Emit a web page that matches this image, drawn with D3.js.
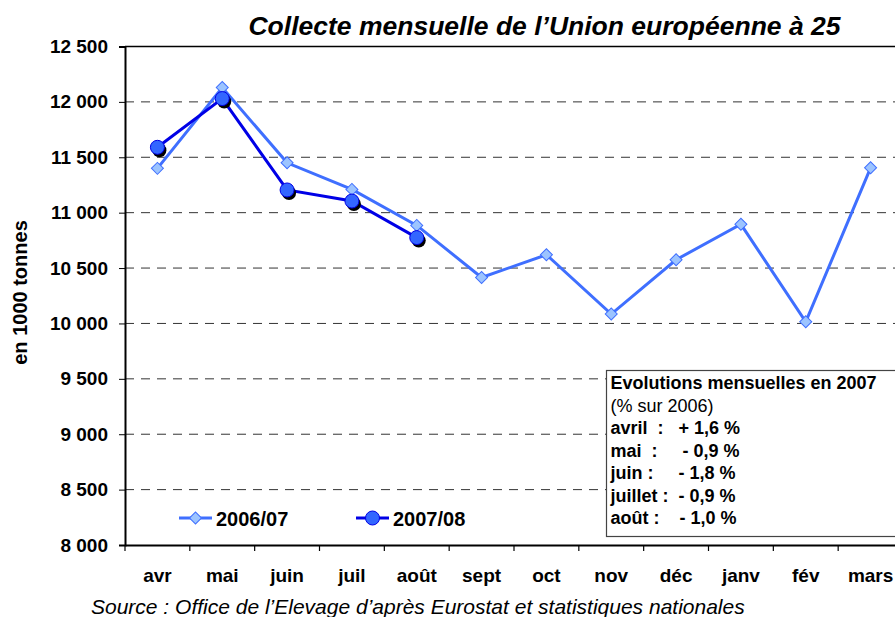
<!DOCTYPE html>
<html>
<head>
<meta charset="utf-8">
<script src="https://cdn.jsdelivr.net/npm/d3@7"></script>
<style>
  body { margin: 0; background: #fff; }
  svg { font-family: Arial, "Liberation Sans", sans-serif; }
</style>
</head>
<body>
<svg width="895" height="617"></svg>
<script>
// data
const months = ['avr', 'mai', 'juin', 'juil', 'août', 'sept', 'oct', 'nov', 'déc', 'janv', 'fév', 'mars']
const s2006 = [11400, 12130, 11450, 11210, 10885, 10415, 10620, 10085, 10575, 10895, 10015, 11405]
const s2007 = [11590, 12030, 11205, 11105, 10775]
const yTicks = [8000, 8500, 9000, 9500, 10000, 10500, 11000, 11500, 12000, 12500]
const boxLines = [
  {t: 'Evolutions mensuelles en 2007', bold: true},
  {t: '(% sur 2006)', bold: false},
  {t: 'avril  :   + 1,6 %', bold: true},
  {t: 'mai  :     - 0,9 %', bold: true},
  {t: 'juin :     - 1,8 %', bold: true},
  {t: 'juillet :  - 0,9 %', bold: true},
  {t: 'août :    - 1,0 %', bold: true}
]

const c06 = '#3f6fff',
    c06fill = '#9cc4ff',
    c07 = '#0000e6',
    c07fill = '#3366ff'

const svg = d3.select('svg'),
    pLeft = 125, pRight = 903, pTop = 46.5, pBottom = 545

const x = d3.scaleBand().domain(months).range([pLeft, pRight]),
    y = d3.scaleLinear().domain([8000, 12500]).range([pBottom, pTop])

// dashed gridlines
svg.selectAll('.grid')
    .data(yTicks.filter(d => d > 8000 && d < 12500))
    .enter().append('line')
    .attr('x1', pLeft).attr('x2', pRight)
    .attr('y1', d => y(d)).attr('y2', d => y(d))
    .style('stroke', '#333')
    .style('stroke-dasharray', '9,7')
    .style('stroke-width', 1)

// top border
svg.append('line')
    .attr('x1', pLeft).attr('x2', pRight)
    .attr('y1', y(12500)).attr('y2', y(12500))
    .style('stroke', '#000').style('stroke-width', 1.5)

// y axis
const yAxis = svg.append('g')
    .attr('transform', 'translate(' + pLeft + ',0)')
    .call(d3.axisLeft(y).tickValues(yTicks).tickSize(6)
        .tickFormat(d => d3.format(',')(d).replace(',', ' ')))
yAxis.select('.domain').style('stroke', '#000').style('stroke-width', 2)
yAxis.selectAll('.tick line').style('stroke', '#000')
yAxis.selectAll('text')
    .attr('x', -17)
    .style('font-size', '19px').style('font-weight', 'bold').style('fill', '#000')

// x axis
const xAxis = svg.append('g')
    .attr('transform', 'translate(0,' + pBottom + ')')
    .call(d3.axisBottom(x).tickSize(0))
xAxis.select('.domain').style('stroke', '#000').style('stroke-width', 2)
xAxis.selectAll('text')
    .attr('y', 37).attr('dy', null)
    .style('font-size', '19px').style('font-weight', 'bold').style('fill', '#000')
svg.selectAll('.xtick')
    .data(months)
    .enter().append('line')
    .attr('x1', d => x(d)).attr('x2', d => x(d))
    .attr('y1', pBottom).attr('y2', pBottom + 6)
    .style('stroke', '#000').style('stroke-width', 1.2)

const cx = (d, i) => x(months[i]) + x.bandwidth() / 2

const line = d3.line()
    .x((d, i) => cx(d, i))
    .y(d => y(d))

// 2006/07 series
svg.append('path')
    .datum(s2006)
    .attr('d', line)
    .style('fill', 'none').style('stroke', c06).style('stroke-width', 3)

const diamond = d3.symbol().type(d3.symbolSquare).size(72)
svg.selectAll('.d06')
    .data(s2006)
    .enter().append('path')
    .attr('d', diamond)
    .attr('transform', (d, i) => 'translate(' + cx(d, i) + ',' + y(d) + ')rotate(45)')
    .style('fill', c06fill).style('stroke', c06).style('stroke-width', 1)

// 2007/08 series
svg.append('path')
    .datum(s2007)
    .attr('d', line)
    .style('fill', 'none').style('stroke', c07).style('stroke-width', 3)

svg.selectAll('.sh07')
    .data(s2007)
    .enter().append('circle')
    .attr('cx', (d, i) => cx(d, i) + 2)
    .attr('cy', d => y(d) + 3)
    .attr('r', 7)
    .style('fill', '#000')

svg.selectAll('.c07')
    .data(s2007)
    .enter().append('circle')
    .attr('cx', (d, i) => cx(d, i))
    .attr('cy', d => y(d))
    .attr('r', 7)
    .style('fill', c07fill).style('stroke', c07).style('stroke-width', 1)

// legend
const legend = [
  {name: '2006/07', x0: 179, col: c06},
  {name: '2007/08', x0: 356, col: c07}
]
const lg = svg.selectAll('.legend')
    .data(legend)
    .enter().append('g')
    .attr('transform', d => 'translate(' + d.x0 + ',518)')
lg.append('line')
    .attr('x1', 0).attr('x2', 33)
    .style('stroke', d => d.col).style('stroke-width', 3)
lg.filter((d, i) => i === 0).append('path')
    .attr('d', diamond)
    .attr('transform', 'translate(16.5,0)rotate(45)')
    .style('fill', c06fill).style('stroke', c06)
lg.filter((d, i) => i === 1).append('circle')
    .attr('cx', 16.5).attr('r', 7)
    .style('fill', c07fill).style('stroke', c07)
lg.append('text')
    .attr('x', 37).attr('y', 8)
    .text(d => d.name)
    .style('font-size', '20px').style('font-weight', 'bold')

// text box
svg.append('rect')
    .attr('x', 606.5).attr('y', 370.5)
    .attr('width', 300).attr('height', 166)
    .style('fill', '#fff').style('stroke', '#444').style('stroke-width', 1.2)
svg.selectAll('.box')
    .data(boxLines)
    .enter().append('text')
    .attr('x', 610.5)
    .attr('y', (d, i) => 389 + i * 22.5)
    .attr('xml:space', 'preserve')
    .style('white-space', 'pre')
    .text(d => d.t)
    .style('font-size', '18px')
    .style('font-weight', d => d.bold ? 'bold' : 'normal')

// title
svg.append('text')
    .attr('x', 544.5).attr('y', 35)
    .attr('text-anchor', 'middle')
    .text('Collecte mensuelle de l\u2019Union européenne à 25')
    .style('font-size', '26.5px').style('font-weight', 'bold').style('font-style', 'italic')

// y label
svg.append('text')
    .attr('transform', 'translate(27,292.5)rotate(-90)')
    .attr('text-anchor', 'middle')
    .text('en 1000 tonnes')
    .style('font-size', '20px').style('font-weight', 'bold')

// source
svg.append('text')
    .attr('x', 91).attr('y', 614)
    .text('Source : Office de l\u2019Elevage d\u2019après Eurostat et statistiques nationales')
    .style('font-size', '21px').style('font-style', 'italic')
</script>
</body>
</html>
